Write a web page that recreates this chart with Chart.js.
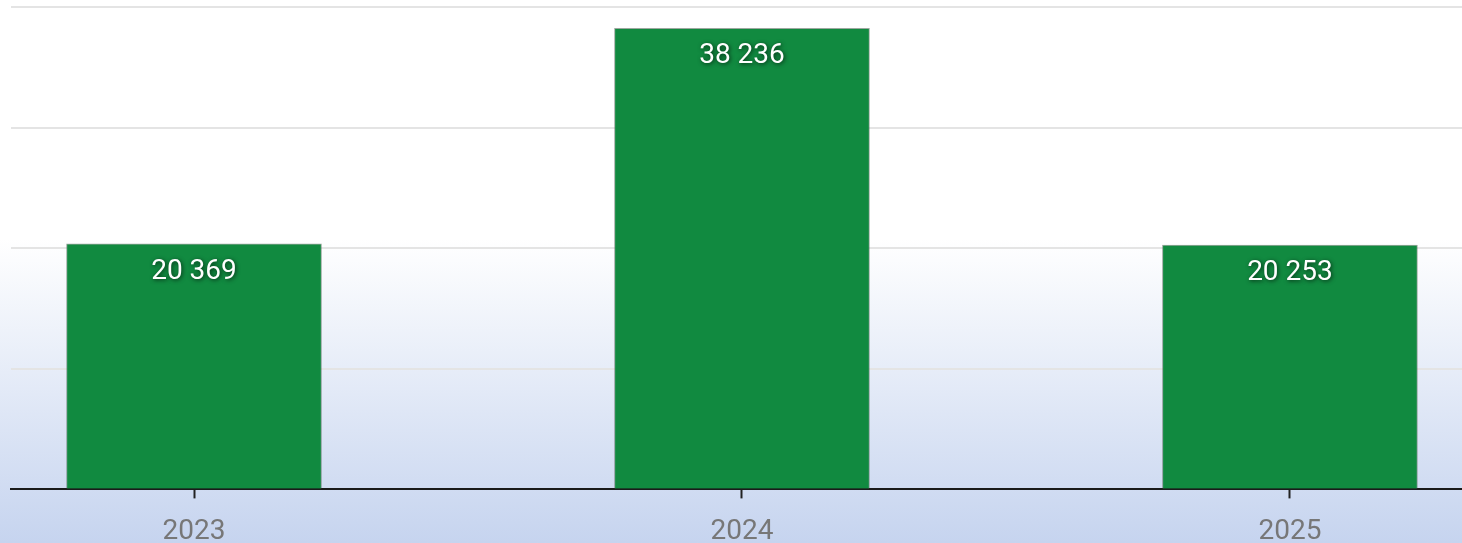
<!DOCTYPE html>
<html>
<head>
<meta charset="utf-8">
<script src="https://cdn.jsdelivr.net/npm/chart.js@4"></script>
<style>
    html, body { margin: 0; padding: 0; overflow: hidden; }
    body {
        width: 1462px; height: 543px;
        background: linear-gradient(to bottom, #ffffff 0%, #ffffff 44%, #c6d4ef 100%);
    }
    #wrap { position: relative; width: 1462px; height: 566px; }
</style>
</head>
<body>
<div id="wrap"><canvas id="yearChart"></canvas></div>
<script>
// Values per year
const years = [2023, 2024, 2025];
const totals = [20369, 38236, 20253];
const yTicks = [0, 10000, 20000, 30000, 40000];

// number with space as thousands separator, e.g. 38 236
function fmt(n) {
    return String(n).replace(/\B(?=(\d{3})+(?!\d))/g, ' ');
}

// white value label inside the top of each bar
const barLabels = {
    id: 'barLabels',
    afterDatasetsDraw(chart) {
        const ctx = chart.ctx;
        const meta = chart.getDatasetMeta(0);
        ctx.save();
        ctx.font = '28px Roboto';
        ctx.fillStyle = '#ffffff';
        ctx.textAlign = 'center';
        ctx.textBaseline = 'middle';
        ctx.shadowColor = 'rgba(0,0,0,0.7)';
        ctx.shadowBlur = 4;
        ctx.shadowOffsetX = 1;
        ctx.shadowOffsetY = 1;
        meta.data.forEach((bar, i) => {
            ctx.fillText(fmt(totals[i]), bar.x, bar.y + 28);
        });
        ctx.restore();
    }
};

const ctx = document.getElementById('yearChart').getContext('2d');
new Chart(ctx, {
    type: 'bar',
    data: {
        datasets: [{
            data: years.map((y, i) => ({ x: y, y: totals[i] })),
            backgroundColor: '#118a40',
            borderColor: 'rgba(90,110,95,0.6)',
            borderWidth: 1,
            barThickness: 255
        }]
    },
    options: {
        responsive: true,
        maintainAspectRatio: false,
        animation: false,
        layout: { padding: { left: 11, top: 7, right: 0, bottom: 0 } },
        plugins: {
            legend: { display: false },
            tooltip: { enabled: false }
        },
        scales: {
            x: {
                type: 'linear',
                offset: false,
                min: 2022.666,
                max: 2025.314,
                afterBuildTicks: (scale) => {
                    scale.ticks = years.map(v => ({ value: v }));
                },
                grid: {
                    display: true,
                    offset: false,
                    drawOnChartArea: false,
                    drawTicks: true,
                    tickLength: 9,
                    tickColor: '#222',
                    tickWidth: 2
                },
                border: { display: true, color: '#1a1a1a', width: 2 },
                ticks: {
                    color: '#777',
                    font: { family: 'Roboto', size: 28 },
                    padding: 17,
                    maxRotation: 0,
                    callback: (v) => String(v)
                }
            },
            y: {
                min: 0,
                max: 40000,
                afterBuildTicks: (scale) => {
                    scale.ticks = yTicks.map(v => ({ value: v }));
                },
                grid: { color: '#e4e4e4', lineWidth: 2, drawTicks: false },
                border: { display: false },
                ticks: { display: false }
            }
        }
    },
    plugins: [barLabels]
});
</script>
</body>
</html>
